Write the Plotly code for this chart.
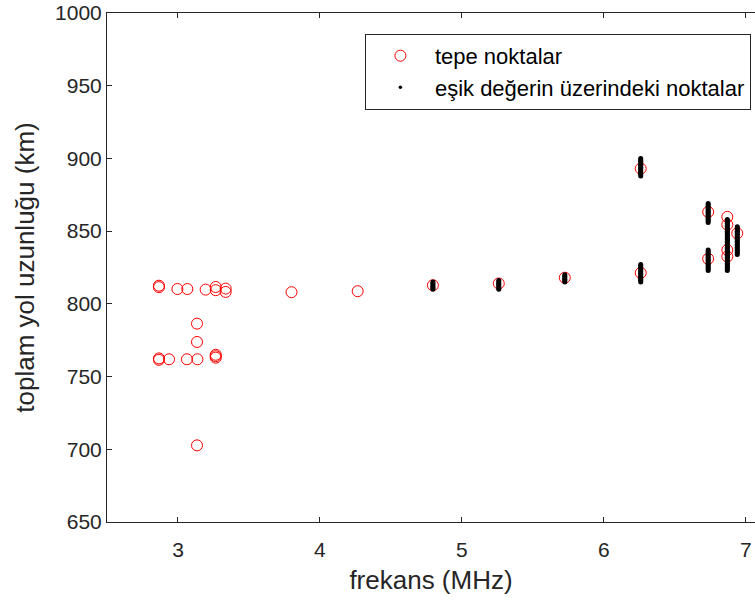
import plotly.graph_objects as go

# Red circles: "tepe noktalar" (peak points)
peak_freq = [2.866, 2.866, 2.996, 3.066, 3.195, 3.266, 3.266, 3.336, 3.336,
             3.134, 3.134,
             2.866, 2.866, 2.937, 3.063, 3.137, 3.266, 3.266, 3.266,
             3.134,
             3.80, 4.266, 4.796, 5.26, 5.725,
             6.26, 6.26,
             6.735, 6.735,
             6.87, 6.87, 6.87, 6.87,
             6.94]
peak_len = [812.5, 811.5, 810.2, 810.2, 809.8, 811.6, 809.4, 810.5, 808.2,
            786.4, 773.8,
            762.5, 761.5, 761.9, 761.9, 761.9, 765, 764, 763,
            702.7,
            808.0, 808.7, 812.8, 814.0, 818.0,
            893.0, 821.3,
            863.2, 831.0,
            859.8, 854.5, 837.0, 832.5,
            848.5]

# Black dots: "eşik değerin üzerindeki noktalar" (points above threshold)
thr_freq = ([4.796] * 6 + [5.26] * 7 + [5.725] * 6 +
            [6.26] * 13 + [6.26] * 13 +
            [6.735] * 14 + [6.735] * 15 +
            [6.87] * 36 +
            [6.94] * 20)
thr_len = ([810, 811, 812, 813, 814, 815] +
           [810, 811, 812, 813, 814, 815, 816] +
           [815, 816, 817, 818, 819, 820] +
           [888, 889, 890, 891, 892, 893, 894, 895, 896, 897, 898, 899, 900] +
           [815, 816, 817, 818, 819, 820, 821, 822, 823, 824, 825, 826, 827] +
           [856, 857, 858, 859, 860, 861, 862, 863, 864, 865, 866, 867, 868, 869] +
           [823, 824, 825, 826, 827, 828, 829, 830, 831, 832, 833, 834, 835, 836, 837] +
           [823, 824, 825, 826, 827, 828, 829, 830, 831, 832, 833, 834, 835, 836,
            837, 838, 839, 840, 841, 842, 843, 844, 845, 846, 847, 848, 849, 850,
            851, 852, 853, 854, 855, 856, 857, 858] +
           [834, 835, 836, 837, 838, 839, 840, 841, 842, 843, 844, 845, 846, 847,
            848, 849, 850, 851, 852, 853])

x_ticks = [3, 4, 5, 6, 7]
y_ticks = [650, 700, 750, 800, 850, 900, 950, 1000]

AX = "#262626"
FONT = "Liberation Sans, Arial, Helvetica, sans-serif"
THR_NAME = "eşik değerin üzerindeki noktalar"

fig = go.Figure()
fig.add_trace(go.Scatter(
    x=peak_freq, y=peak_len, mode="markers", name="tepe noktalar",
    marker=dict(symbol="circle-open", size=11, color="#ff0000",
                line=dict(width=1, color="#ff0000")),
    legendrank=1,
))
fig.add_trace(go.Scatter(
    x=thr_freq, y=thr_len, mode="markers", name=THR_NAME,
    marker=dict(symbol="circle", size=5, color="#000000"),
    showlegend=False, legendgroup="thr",
))
# legend entry for the threshold points (MATLAB shows a small dot)
fig.add_trace(go.Scatter(
    x=[None], y=[None], mode="markers", name=THR_NAME,
    marker=dict(symbol="circle", size=3.5, color="#000000"),
    legendgroup="thr", legendrank=2,
))

fig.update_layout(
    width=755, height=604,
    margin=dict(l=107, r=0, t=13, b=82),
    paper_bgcolor="white", plot_bgcolor="white",
    font=dict(family=FONT, color=AX),
    showlegend=True,
    legend=dict(x=0.398, y=0.959, xanchor="left", yanchor="top",
                bordercolor=AX, borderwidth=1, bgcolor="white",
                font=dict(size=22, family=FONT, color="#000000"),
                itemwidth=59, tracegroupgap=0),
)
fig.update_xaxes(
    range=[2.5, 7.065], tickvals=x_ticks, ticktext=[str(v) for v in x_ticks],
    showgrid=False, zeroline=False,
    showline=True, linecolor=AX, linewidth=1, mirror="ticks",
    ticks="inside", ticklen=5, tickcolor=AX, ticklabelstandoff=9,
    tickfont=dict(size=21, family=FONT, color=AX),
    title=dict(text="frekans (MHz)", font=dict(size=26, family=FONT, color=AX), standoff=10),
)
fig.update_yaxes(
    range=[650, 1000], tickvals=y_ticks, ticktext=[str(v) for v in y_ticks],
    showgrid=False, zeroline=False,
    showline=True, linecolor=AX, linewidth=1, mirror=False,
    ticks="inside", ticklen=5, tickcolor=AX,
    tickfont=dict(size=21, family=FONT, color=AX),
    title=dict(text="toplam yol uzunluğu (km)", font=dict(size=26, family=FONT, color=AX), standoff=12),
)

fig.write_html("out.html")
